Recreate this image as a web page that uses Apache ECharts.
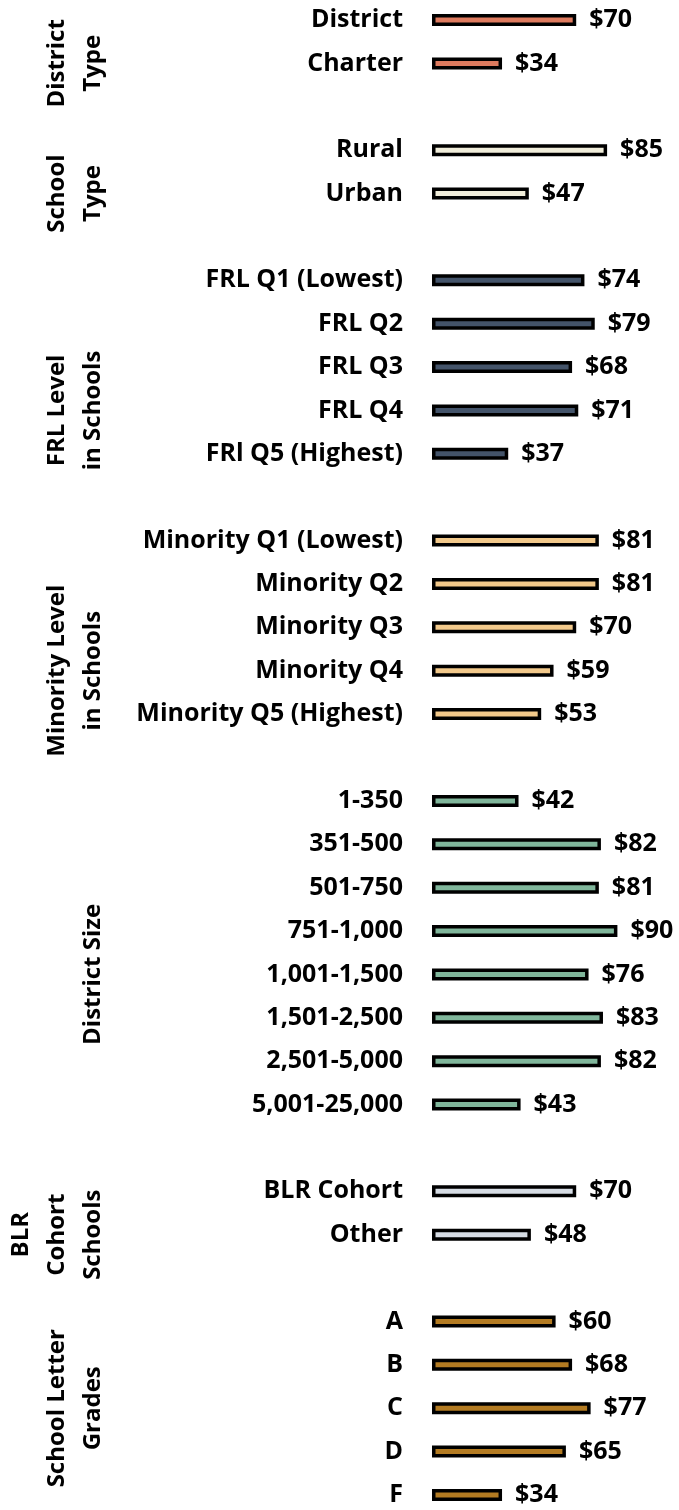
<!DOCTYPE html>
<html>
<head>
<meta charset="utf-8">
<script src="https://cdn.jsdelivr.net/npm/echarts@6/dist/echarts.min.js"></script>
<style>
  html, body { margin: 0; padding: 0; background: #fff; }
  #chart { width: 679px; height: 1510px; }
</style>
</head>
<body>
<div id="chart"></div>
<script>
// group labels (left column)
var groupNames = ['District\nType', 'School\nType', 'FRL Level\nin Schools', 'Minority Level\nin Schools', 'District Size', 'BLR\nCohort\nSchools', 'School Letter\nGrades']
var groupColors = ['#DE7B5F', '#F0EDDA', '#44546A', '#F2C98B', '#80B69B', '#D6DCE4', '#B37B22']

var districtTypeCats = ['District', 'Charter']
var districtTypeVals = [70, 34]
var schoolTypeCats = ['Rural', 'Urban']
var schoolTypeVals = [85, 47]
var frlCats = ['FRL Q1 (Lowest)', 'FRL Q2', 'FRL Q3', 'FRL Q4', 'FRl Q5 (Highest)']
var frlVals = [74, 79, 68, 71, 37]
var minorityCats = ['Minority Q1 (Lowest)', 'Minority Q2', 'Minority Q3', 'Minority Q4', 'Minority Q5 (Highest)']
var minorityVals = [81, 81, 70, 59, 53]
var sizeCats = ['1-350', '351-500', '501-750', '751-1,000', '1,001-1,500', '1,501-2,500', '2,501-5,000', '5,001-25,000']
var sizeVals = [42, 82, 81, 90, 76, 83, 82, 43]
var blrCats = ['BLR Cohort', 'Other']
var blrVals = [70, 48]
var gradeCats = ['A', 'B', 'C', 'D', 'F']
var gradeVals = [60, 68, 77, 65, 34]

var groupCats = [districtTypeCats, schoolTypeCats, frlCats, minorityCats, sizeCats, blrCats, gradeCats]
var groupVals = [districtTypeVals, schoolTypeVals, frlVals, minorityVals, sizeVals, blrVals, gradeVals]

var FONT = 'Open Sans'

// build one category list with an empty slot between groups
var cats = []
var data = []
var groupCenters = []
for (var g = 0; g < groupCats.length; g++) {
  var start = cats.length
  for (var i = 0; i < groupCats[g].length; i++) {
    cats.push(groupCats[g][i])
    data.push({ value: groupVals[g][i], itemStyle: { color: groupColors[g] } })
  }
  var last = g < groupCats.length - 1 ? cats.length : cats.length - 1
  groupCenters.push((start + last) / 2)
  if (g < groupCats.length - 1) {
    cats.push('')
    data.push('-')
  }
}

var myChart = echarts.init(document.getElementById('chart'))
var option = {
  animation: false,
  grid: { left: 432, width: 206, top: 20, bottom: 15 },
  xAxis: {
    type: 'value',
    min: 0,
    max: 100,
    show: false
  },
  yAxis: {
    type: 'category',
    data: cats,
    inverse: true,
    boundaryGap: false,
    axisLine: { show: false },
    axisTick: { show: false },
    axisLabel: {
      margin: 29,
      color: '#000',
      fontFamily: FONT,
      fontWeight: 'bold',
      fontSize: 25,
      interval: 0
    }
  },
  series: [
    {
      type: 'bar',
      data: data,
      barWidth: 12,
      itemStyle: { borderColor: '#000', borderWidth: 3.5 },
      label: {
        show: true,
        position: 'right',
        distance: 13,
        color: '#000',
        fontFamily: FONT,
        fontWeight: 'bold',
        fontSize: 25,
        formatter: function (p) { return '$' + p.value }
      }
    }
  ]
}
myChart.setOption(option)

// rotated group titles, centred on their block of rows
var graphics = []
for (var k = 0; k < groupNames.length; k++) {
  var cy = myChart.convertToPixel({ yAxisIndex: 0 }, groupCenters[k])
  graphics.push({
    type: 'text',
    x: 111,
    y: cy,
    rotation: Math.PI / 2,
    style: {
      text: groupNames[k],
      fill: '#000',
      fontFamily: FONT,
      fontWeight: 'bold',
      fontSize: 24,
      lineHeight: 36,
      align: 'center',
      verticalAlign: 'bottom'
    }
  })
}
myChart.setOption({ graphic: graphics })
</script>
</body>
</html>
